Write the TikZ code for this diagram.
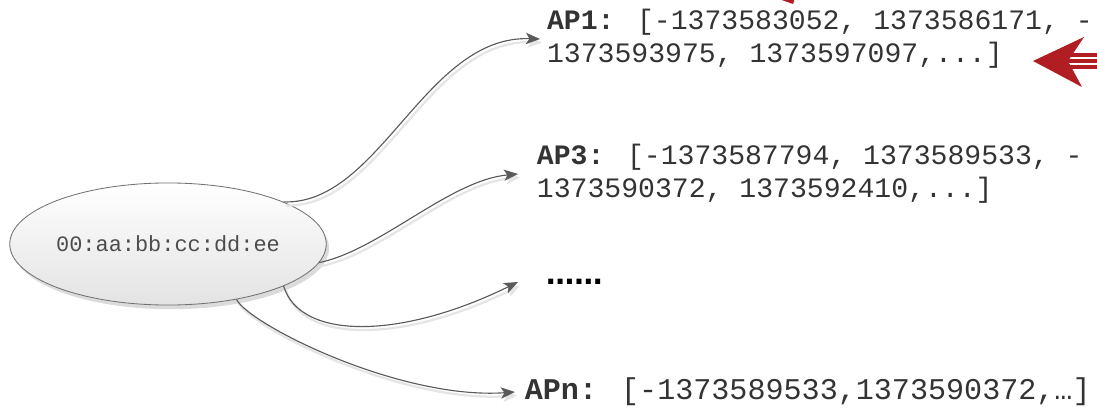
\documentclass[tikz,border=0pt]{standalone}
\usepackage{fontspec}
\newfontfamily\mono{Liberation Mono}
\newfontfamily\dotfont{DejaVu Sans}
\usetikzlibrary{shapes.geometric,arrows.meta}
\definecolor{txt}{HTML}{333333}
\definecolor{conn}{HTML}{5A5A5A}
\definecolor{redarr}{HTML}{B01E24}
\begin{document}
\begin{tikzpicture}[x=0.025cm,y=-0.025cm,
  aptext/.style={font=\mono\fontsize{20}{23.5}\selectfont, text=txt, align=left, anchor=west, inner ysep=0pt, outer sep=0pt},
  link/.style={draw=conn, line width=0.8pt, -{Stealth[length=10pt,width=8pt,inset=2.5pt]},
    preaction={draw=black!10, line width=1.6pt, transform canvas={xshift=1.5pt,yshift=-2.5pt}}},
  macnode/.style={ellipse, minimum width=223.4pt, minimum height=86.8pt, inner sep=0pt,
    draw=black!55, line width=0.6pt, top color=white, bottom color=black!11,
    preaction={fill=black!14, transform canvas={xshift=2pt,yshift=-3pt}},
    font=\mono\fontsize{15.6}{18}\selectfont, text=black!70}
]
\useasboundingbox (0,0) rectangle (1097,414);
\node[macnode] (mac) at (168,244) {00:aa:bb:cc:dd:ee};
\node[aptext, inner xsep=5pt] (ap1) at (540,39) {\textbf{AP1:} [-1373583052, 1373586171, -\\1373593975, 1373597097,...]};
\node[aptext, inner xsep=13.5pt] (ap3) at (518,174) {\textbf{AP3:} [-1373587794, 1373589533, -\\1373590372, 1373592410,...]};
\node[anchor=west, inner xsep=20pt, inner ysep=0pt, outer sep=0pt, font=\dotfont\bfseries\fontsize{20}{24}\selectfont, text=black] (dots) at (518,282) {……};
\node[aptext, font=\mono\fontsize{21.4}{26}\selectfont, inner xsep=7pt] (apn) at (515,392) {\textbf{APn:} [-1373589533,1373590372,…]};

\draw[link] (mac.20) .. controls (380,205) and (425,35) .. (ap1.west);
\draw[link] (mac.-7) .. controls (380,250) and (450,180) .. (ap3.west);
\draw[link] (mac.-20) .. controls (300,340) and (400,340) .. (dots.west);
\draw[link] (mac.-39) .. controls (250,325) and (400,400) .. (apn.west);

\begin{scope}
\clip (0,0) rectangle (1097,414);
\fill[redarr] (1033,61) -- (1084,37) -- (1068,61) -- (1082,87) -- cycle;
\foreach \yy in {55,61,67} \draw[redarr, line width=2.6pt] (1064,\yy) -- (1100,\yy);
\fill[redarr] (776,-2) -- (795,-2) -- (793,4) -- cycle;
\end{scope}
\end{tikzpicture}
\end{document}
